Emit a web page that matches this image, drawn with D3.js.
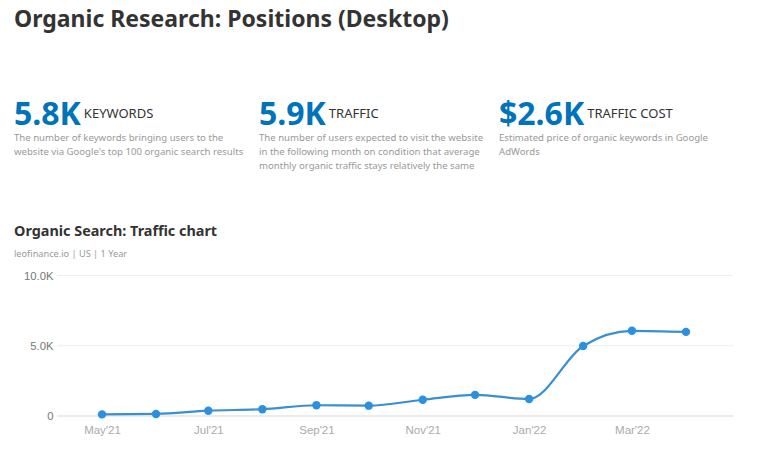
<!DOCTYPE html>
<html><head><meta charset="utf-8">
<script src="https://cdn.jsdelivr.net/npm/d3@7"></script>
<style>
html,body{margin:0;padding:0;background:#fff;overflow:hidden}
svg{display:block}
text{font-family:"Noto Sans",sans-serif}
.axis text{font-family:"Liberation Sans",Arial,sans-serif}
</style></head><body>
<svg id="c" width="766" height="463"></svg>
<script>
const months = ["2021-05-01","2021-06-01","2021-07-01","2021-08-01","2021-09-01","2021-10-01","2021-11-01","2021-12-01","2022-01-01","2022-02-01","2022-03-01","2022-04-01"];
const traffic = [80,110,340,450,730,700,1120,1470,1170,4950,6030,5950];
const yTicks = [0,5000,10000];
const xTickMonths = ["2021-05-01","2021-07-01","2021-09-01","2021-11-01","2022-01-01","2022-03-01"];
const statValues = ["5.8K","5.9K","$2.6K"];
const statLabels = ["KEYWORDS","TRAFFIC","TRAFFIC COST"];
const statDescriptions = [
  ["The number of keywords bringing users to the","website via Google's top 100 organic search results"],
  ["The number of users expected to visit the website","in the following month on condition that average","monthly organic traffic stays relatively the same"],
  ["Estimated price of organic keywords in Google","AdWords"]
];
const statX = [14,259,499];
const svg = d3.select("#c");
const parse = d3.utcParse("%Y-%m-%d");
const fmtX = d3.utcFormat("%b'%y");

svg.append("text").attr("x",14).attr("y",27).attr("font-size",23).attr("font-weight",700).attr("fill","#333").text("Organic Research: Positions (Desktop)");

statValues.forEach((v,i)=>{
  const big = svg.append("text").attr("x",statX[i]).attr("y",125).attr("font-size",32).attr("font-weight",700).attr("fill","#0073bb").text(v);
  const w = big.node().getComputedTextLength();
  svg.append("text").attr("x",statX[i]+w+3).attr("y",118).attr("font-size",13).attr("fill","#333").text(statLabels[i]);
  statDescriptions[i].forEach((line,j)=>{
    svg.append("text").attr("x",statX[i]).attr("y",140.5+j*14).attr("font-size",9.6).attr("fill","#999").text(line);
  });
});

svg.append("text").attr("x",14).attr("y",236).attr("font-size",14.4).attr("font-weight",700).attr("fill","#333").text("Organic Search: Traffic chart");
svg.append("text").attr("x",14).attr("y",257).attr("font-size",9.2).attr("fill","#999").text("leofinance.io | US | 1 Year");

const x = d3.scaleUtc().domain([parse(months[0]),parse(months[11])]).range([102,686]);
const y = d3.scaleLinear().domain([0,10000]).range([415.5,275]);

const gy = svg.append("g").attr("class","axis").attr("transform","translate(57,0)")
  .call(d3.axisLeft(y).tickValues(yTicks).tickSize(0).tickPadding(3.5).tickFormat(d=>d===0?"0":(d/1000).toFixed(1)+"K"));
gy.select(".domain").remove();
gy.selectAll("text").attr("y",0.7).attr("fill","#777").style("font-size","11.3px");
gy.selectAll("line").attr("x1",0).attr("x2",676).attr("stroke",d=>d===0?"#d8d8dc":"#eeeeee").attr("stroke-width",1.2);

const gx = svg.append("g").attr("class","axis").attr("transform","translate(0,415.5)")
  .call(d3.axisBottom(x).tickValues(xTickMonths.map(parse)).tickSize(0).tickPadding(10).tickFormat(fmtX));
gx.select(".domain").remove();
gx.selectAll("text").style("font-size","11.5px").attr("fill","#aaa");

const pts = months.map((m,i)=>({d:parse(m),v:traffic[i]}));
const line = d3.line().x(p=>x(p.d)).y(p=>y(p.v)).curve(d3.curveMonotoneX);
svg.append("path").datum(pts).attr("d",line).attr("fill","none").attr("stroke","#3a8fd0").attr("stroke-width",2.2);
svg.selectAll("circle").data(pts).join("circle").attr("cx",p=>x(p.d)).attr("cy",p=>y(p.v)).attr("r",4.2).attr("fill","#2b90e0");
</script></body></html>
